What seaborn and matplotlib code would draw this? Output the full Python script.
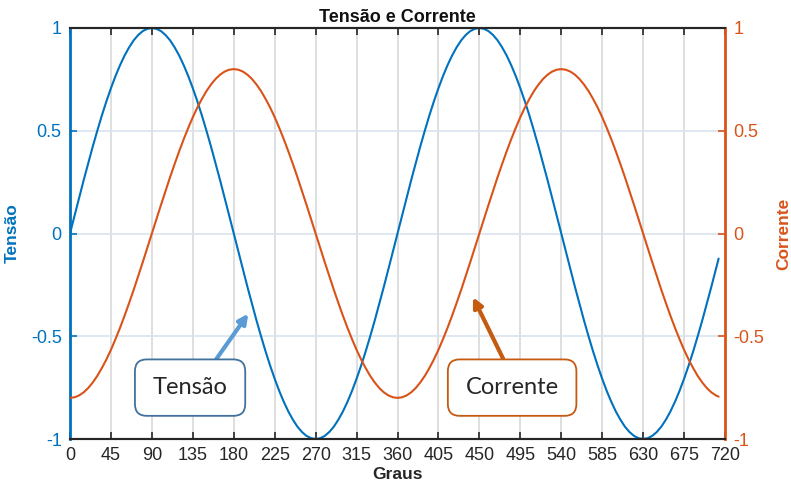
import numpy as np
import pandas as pd
import matplotlib
matplotlib.use("Agg")
import matplotlib.pyplot as plt
import seaborn as sns

# valores (graus, passo de 5)
graus = list(range(0, 711, 5)) + [713]

tensao = [
    0.000, 0.087, 0.174, 0.259, 0.342, 0.423, 0.500, 0.574, 0.643, 0.707, 0.766, 0.819, 0.866, 0.906, 0.940, 0.966, 0.985, 0.996,
    1.000, 0.996, 0.985, 0.966, 0.940, 0.906, 0.866, 0.819, 0.766, 0.707, 0.643, 0.574, 0.500, 0.423, 0.342, 0.259, 0.174, 0.087,
    0.000, -0.087, -0.174, -0.259, -0.342, -0.423, -0.500, -0.574, -0.643, -0.707, -0.766, -0.819, -0.866, -0.906, -0.940, -0.966, -0.985, -0.996,
    -1.000, -0.996, -0.985, -0.966, -0.940, -0.906, -0.866, -0.819, -0.766, -0.707, -0.643, -0.574, -0.500, -0.423, -0.342, -0.259, -0.174, -0.087,
    0.000, 0.087, 0.174, 0.259, 0.342, 0.423, 0.500, 0.574, 0.643, 0.707, 0.766, 0.819, 0.866, 0.906, 0.940, 0.966, 0.985, 0.996,
    1.000, 0.996, 0.985, 0.966, 0.940, 0.906, 0.866, 0.819, 0.766, 0.707, 0.643, 0.574, 0.500, 0.423, 0.342, 0.259, 0.174, 0.087,
    0.000, -0.087, -0.174, -0.259, -0.342, -0.423, -0.500, -0.574, -0.643, -0.707, -0.766, -0.819, -0.866, -0.906, -0.940, -0.966, -0.985, -0.996,
    -1.000, -0.996, -0.985, -0.966, -0.940, -0.906, -0.866, -0.819, -0.766, -0.707, -0.643, -0.574, -0.500, -0.423, -0.342, -0.259, -0.174,
    -0.122]

corrente = [
    -0.800, -0.797, -0.788, -0.773, -0.752, -0.725, -0.693, -0.655, -0.613, -0.566, -0.514, -0.459, -0.400, -0.338, -0.274, -0.207, -0.139, -0.070,
    0.000, 0.070, 0.139, 0.207, 0.274, 0.338, 0.400, 0.459, 0.514, 0.566, 0.613, 0.655, 0.693, 0.725, 0.752, 0.773, 0.788, 0.797,
    0.800, 0.797, 0.788, 0.773, 0.752, 0.725, 0.693, 0.655, 0.613, 0.566, 0.514, 0.459, 0.400, 0.338, 0.274, 0.207, 0.139, 0.070,
    0.000, -0.070, -0.139, -0.207, -0.274, -0.338, -0.400, -0.459, -0.514, -0.566, -0.613, -0.655, -0.693, -0.725, -0.752, -0.773, -0.788, -0.797,
    -0.800, -0.797, -0.788, -0.773, -0.752, -0.725, -0.693, -0.655, -0.613, -0.566, -0.514, -0.459, -0.400, -0.338, -0.274, -0.207, -0.139, -0.070,
    0.000, 0.070, 0.139, 0.207, 0.274, 0.338, 0.400, 0.459, 0.514, 0.566, 0.613, 0.655, 0.693, 0.725, 0.752, 0.773, 0.788, 0.797,
    0.800, 0.797, 0.788, 0.773, 0.752, 0.725, 0.693, 0.655, 0.613, 0.566, 0.514, 0.459, 0.400, 0.338, 0.274, 0.207, 0.139, 0.070,
    0.000, -0.070, -0.139, -0.207, -0.274, -0.338, -0.400, -0.459, -0.514, -0.566, -0.613, -0.655, -0.693, -0.725, -0.752, -0.773, -0.788,
    -0.794]

xticks = list(range(0, 721, 45))
yticks = [-1, -0.5, 0, 0.5, 1]
yticklabels = ["-1", "-0.5", "0", "0.5", "1"]

azul = "#0072BD"
laranja = "#D95319"

sns.set_style("white")
plt.rcParams['font.family'] = ['Liberation Sans', 'DejaVu Sans']

df = pd.DataFrame({"graus": graus, "tensao": tensao, "corrente": corrente})

fig = plt.figure(figsize=(7.91, 4.93), dpi=100)
ax = fig.add_axes([70 / 791, 1 - 439 / 493, 655 / 791, 411 / 493])
ax2 = ax.twinx()

# grelha
for g in xticks[1:-1]:
    ax.axvline(g, color="#d9d9d9", lw=1.2, zorder=0)
for g in [-0.5, 0, 0.5]:
    ax.axhline(g, color="#d9e4ef", lw=1.2, zorder=0)

sns.lineplot(data=df, x="graus", y="tensao", ax=ax, color=azul, lw=1.5, zorder=3)
sns.lineplot(data=df, x="graus", y="corrente", ax=ax2, color=laranja, lw=1.5, zorder=3)

for a in (ax, ax2):
    a.set_xlim(0, 720)
    a.set_ylim(-1, 1)
    a.set_yticks(yticks)
    a.set_yticklabels(yticklabels)

ax.set_xticks(xticks)
ax.tick_params(axis="x", direction="in", length=5, width=1.2, top=True, bottom=True,
               labelsize=13, colors="#262626", pad=6)
ax.tick_params(axis="y", direction="in", length=5, width=1.2, colors=azul, labelsize=13, pad=6)
ax2.tick_params(axis="y", direction="in", length=5, width=1.2, colors=laranja, labelsize=13, pad=6)

for a in (ax, ax2):
    a.spines["top"].set_color("#262626")
    a.spines["bottom"].set_color("#262626")
    a.spines["top"].set_linewidth(1.5)
    a.spines["bottom"].set_linewidth(1.5)
ax.spines["left"].set_color(azul)
ax.spines["left"].set_linewidth(2)
ax2.spines["right"].set_color(laranja)
ax2.spines["right"].set_linewidth(2)
ax2.spines["left"].set_visible(False)
ax.spines["right"].set_visible(False)

ax.set_xlabel("Graus", fontsize=12.5, fontweight="bold", color="#262626", labelpad=2)
ax.set_ylabel("Tensão", fontsize=12.5, fontweight="bold", color=azul, labelpad=8)
ax2.set_ylabel("Corrente", fontsize=12.5, fontweight="bold", color=laranja, rotation=90, labelpad=9)
ax.set_title("Tensão e Corrente", fontsize=13, fontweight="bold", color="#111111", pad=4)

# caixas de anotação
ax2.annotate("Tensão", xy=(196, -0.39), xytext=(132, -0.75),
             fontsize=17, family=["Lato", "DejaVu Sans"], ha="center", va="center", zorder=5,
             bbox=dict(boxstyle="round,pad=0.75,rounding_size=0.5", fc="white", ec="#41719C", lw=1.3),
             arrowprops=dict(arrowstyle="-|>", color="#5B9BD5", lw=3, mutation_scale=14,
                             shrinkA=0, shrinkB=0, relpos=(0.68, 1.0)))
ax2.annotate("Corrente", xy=(443, -0.31), xytext=(486, -0.75),
             fontsize=17, family=["Lato", "DejaVu Sans"], ha="center", va="center", zorder=5,
             bbox=dict(boxstyle="round,pad=0.75,rounding_size=0.5", fc="white", ec="#C55A11", lw=1.3),
             arrowprops=dict(arrowstyle="-|>", color="#C55A11", lw=3, mutation_scale=14,
                             shrinkA=0, shrinkB=0, relpos=(0.5, 1.0)))

fig.savefig("out.png", dpi=100)
